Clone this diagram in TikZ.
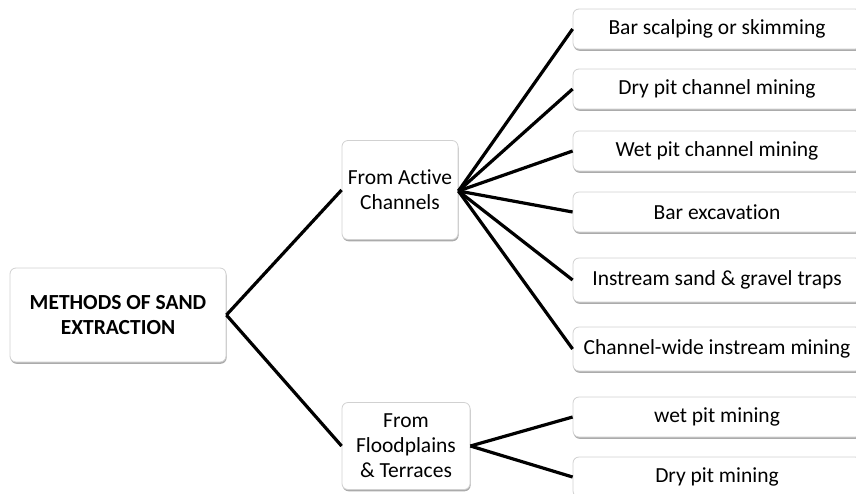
\documentclass[tikz,border=0pt]{standalone}
\usepackage{fontspec}
\setmainfont{Carlito}[Ligatures=NoCommon]
\usetikzlibrary{shadows}
\begin{document}
\begin{tikzpicture}[x=1pt,y=-1pt,
  box/.style={draw=black!18, line width=0.8pt, fill=white, rounded corners=6pt,
    inner sep=0pt, align=center, font=\fontsize{21.5}{25}\selectfont,
    drop shadow={shadow xshift=0.6pt, shadow yshift=-1.8pt, fill=black!55, opacity=0.6}},
  leaf/.style={box, minimum width=288pt, minimum height=40pt},
  conn/.style={line width=3.2pt, black}]
\useasboundingbox (0,0) rectangle (856,493);
\clip (0,0) rectangle (856,493);
\node[box, minimum width=216pt, minimum height=94pt, font=\fontsize{21.5}{25}\selectfont\bfseries] (root) at (118,315) {METHODS OF SAND\\EXTRACTION};
\node[box, minimum width=116pt, minimum height=99pt] (act) at (400,190) {From Active\\Channels};
\node[box, minimum width=128pt, minimum height=87pt] (flood) at (406,446) {From\\Floodplains\\\& Terraces};
\node[leaf] (l1) at (717,29) {Bar scalping or skimming};
\node[leaf] (l2) at (717,89) {Dry pit channel mining};
\node[leaf] (l3) at (717,151) {Wet pit channel mining};
\node[leaf] (l4) at (717,212) {Bar excavation};
\node[leaf, minimum height=44pt] (l5) at (717,280) {Instream sand \& gravel traps};
\node[leaf, minimum height=44pt] (l6) at (717,349) {Channel-wide instream mining};
\node[leaf] (l7) at (717,417) {wet pit mining};
\node[leaf] (l8) at (717,477) {Dry pit mining};
\draw[conn] (root.east) -- (act.west);
\draw[conn] (root.east) -- (flood.west);
\coordinate (fa) at ([yshift=-1pt]act.east);
\foreach \n in {l1,l2,l3,l4,l5,l6} \draw[conn] (fa) -- (\n.west);
\foreach \n in {l7,l8} \draw[conn] (flood.east) -- (\n.west);
\end{tikzpicture}
\end{document}
